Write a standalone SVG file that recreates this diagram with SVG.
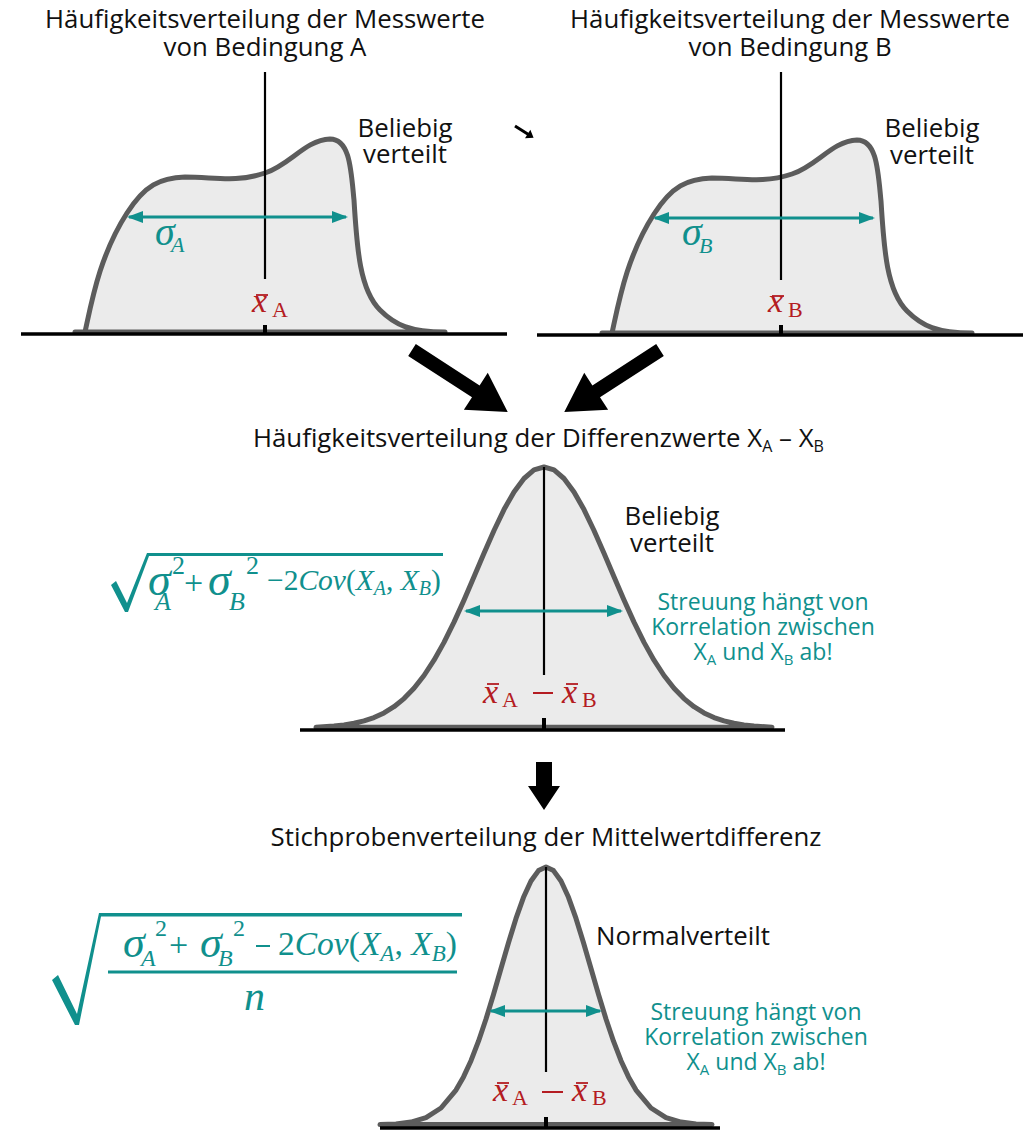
<svg xmlns="http://www.w3.org/2000/svg" width="1035" height="1130" viewBox="0 0 1035 1130">
<style>
.t{font-family:"Open Sans","Noto Sans","DejaVu Sans",sans-serif;font-size:25.8px;fill:#111}
.tc{font-family:"Open Sans","Noto Sans","DejaVu Sans",sans-serif;font-size:23px;fill:#10908d}
.m{font-family:"Liberation Serif","DejaVu Serif",serif}
.i{font-style:italic}
.teal{fill:#10908d}
.red{fill:#b41c22}
.curve{fill:#ebebeb;stroke:#5c5c5c;stroke-width:5;stroke-linejoin:round}
.axis{stroke:#000;stroke-width:3.5}
.tick{stroke:#000;stroke-width:4}
.vl{stroke:#000;stroke-width:2.2}
.sg{stroke:#10908d;stroke-width:3;marker-start:url(#ah);marker-end:url(#ah)}
.bar{stroke:#b41c22;stroke-width:1.8}
.mn{stroke:#b41c22;stroke-width:2}
</style>
<defs>
<marker id="ah" viewBox="0 0 16 12" refX="14" refY="6" markerWidth="16" markerHeight="12" markerUnits="userSpaceOnUse" orient="auto-start-reverse">
<path d="M0,0 L16,6 L0,12 Z" fill="#10908d"/>
</marker>
</defs>

<g id="panel-A">
<text class="t" x="265" y="28" text-anchor="middle">Häufigkeitsverteilung der Messwerte</text>
<text class="t" x="265" y="56" text-anchor="middle">von Bedingung A</text>
<path class="curve" d="M75,332 L85,332 C92,300 100,255 127,213 C145,185 160,178 185,177 C215,177 235,183 265,173 C290,165 305,140 330,139 C350,139 351,170 354,200 C357,250 360,290 380,310 C395,325 410,332 445,332 Z"/>
<line class="axis" x1="21" y1="334" x2="507" y2="334"/>
<line class="tick" x1="265" y1="325" x2="265" y2="334"/>
<line class="vl" x1="265" y1="72" x2="265" y2="279"/>
<line class="sg" x1="129" y1="217" x2="346" y2="217"/>
<text class="m i teal" x="155" y="245" font-size="40">σ</text>
<text class="m i teal" x="171" y="252" font-size="22">A</text>
<text class="m i red" x="252" y="312" font-size="34">x</text>
<line class="bar" x1="256" y1="295" x2="268" y2="295"/>
<text class="m red" x="272" y="317" font-size="22">A</text>
<text class="t" x="405" y="137" text-anchor="middle">Beliebig</text>
<text class="t" x="405" y="163" text-anchor="middle">verteilt</text>
</g>

<g id="panel-B">
<text class="t" x="790" y="28" text-anchor="middle">Häufigkeitsverteilung der Messwerte</text>
<text class="t" x="790" y="56" text-anchor="middle">von Bedingung B</text>
<path class="curve" transform="translate(527,1)" d="M75,332 L85,332 C92,300 100,255 127,213 C145,185 160,178 185,177 C215,177 235,183 265,173 C290,165 305,140 330,139 C350,139 351,170 354,200 C357,250 360,290 380,310 C395,325 410,332 445,332 Z"/>
<line class="axis" x1="537" y1="335" x2="1023" y2="335"/>
<line class="tick" x1="781" y1="325" x2="781" y2="335"/>
<line class="vl" x1="781" y1="72" x2="781" y2="280"/>
<line class="sg" x1="655" y1="218" x2="873" y2="218"/>
<text class="m i teal" x="682" y="245" font-size="40">σ</text>
<text class="m i teal" x="699" y="253" font-size="22">B</text>
<text class="m i red" x="768" y="312" font-size="34">x</text>
<line class="bar" x1="772" y1="296" x2="784" y2="296"/>
<text class="m red" x="788" y="317" font-size="22">B</text>
<text class="t" x="932" y="137" text-anchor="middle">Beliebig</text>
<text class="t" x="932" y="164" text-anchor="middle">verteilt</text>
</g>

<g id="connectors">
<polygon transform="translate(412,350) rotate(32.9)" points="0,-7 76,-7 76,-22 114,0 76,22 76,7 0,7" fill="#000"/>
<polygon transform="translate(660,350) rotate(147.1)" points="0,-7 76,-7 76,-22 114,0 76,22 76,7 0,7" fill="#000"/>
<polygon points="536,762 552,762 552,786 560,786 544,810 528,786 536,786" fill="#000"/>
<polygon transform="translate(515,126) rotate(32.3)" points="0,-1.5 15,-1.5 15,-5 22,0 15,5 15,1.5 0,1.5" fill="#000"/>
</g>

<g id="panel-diff">
<text class="t" x="253" y="447">Häufigkeitsverteilung der Differenzwerte  X<tspan dy="5" font-size="16">A</tspan><tspan dy="-5"> – X</tspan><tspan dy="5" font-size="16">B</tspan></text>
<path class="curve" d="M316,727.2 L334,726.1 L344,725 L354,723.3 L364,720.9 L374,717.6 L384,712.9 L394,706.7 L404,698.6 L414,688.3 L424,675.5 L434,660.2 L444,642.4 L454,622.1 L464,600.1 L474,576.8 L484,553.2 L494,530.5 L504,509.6 L514,491.9 L524,478.5 L534,469.9 L544,467 L554,469.9 L564,478.5 L574,491.9 L584,509.6 L594,530.5 L604,553.2 L614,576.8 L624,600.1 L634,622.1 L644,642.4 L654,660.2 L664,675.5 L674,688.3 L684,698.6 L694,706.7 L704,712.9 L714,717.6 L724,720.9 L734,723.3 L744,725 L754,726.1 L772,727.2 Z"/>
<line class="axis" x1="300" y1="730" x2="785" y2="730"/>
<line class="tick" x1="544" y1="718" x2="544" y2="730"/>
<line class="vl" x1="544" y1="467" x2="544" y2="675"/>
<line class="sg" x1="466" y1="611" x2="621" y2="611"/>
<text class="m i red" x="483" y="703" font-size="34">x</text>
<line class="bar" x1="487" y1="684" x2="499" y2="684"/>
<text class="m red" x="502" y="707" font-size="22">A</text>
<line class="mn" x1="533" y1="693" x2="553" y2="693"/>
<text class="m i red" x="562" y="703" font-size="34">x</text>
<line class="bar" x1="566" y1="684" x2="578" y2="684"/>
<text class="m red" x="582" y="707" font-size="22">B</text>
<text class="t" x="672" y="525" text-anchor="middle">Beliebig</text>
<text class="t" x="672" y="552" text-anchor="middle">verteilt</text>
<text class="tc" x="763" y="610" text-anchor="middle">Streuung hängt von</text>
<text class="tc" x="763" y="635" text-anchor="middle">Korrelation zwischen</text>
<text class="tc" x="763" y="660" text-anchor="middle">X<tspan dy="5" font-size="15">A</tspan><tspan dy="-5"> und X</tspan><tspan dy="5" font-size="15">B</tspan><tspan dy="-5"> ab!</tspan></text>
<path class="teal" d="M111,585 L116,581 L127,603 L147,553 L443,553 L443,556 L149,556 L128,612 L125,612 Z"/>
<text class="m i teal" x="148" y="595" font-size="46">σ</text>
<text class="m teal" x="172" y="574" font-size="26">2</text>
<text class="m i teal" x="155" y="610" font-size="26">A</text>
<text class="m teal" x="184" y="594" font-size="34">+</text>
<text class="m i teal" x="208" y="595" font-size="46">σ</text>
<text class="m teal" x="246" y="574" font-size="26">2</text>
<text class="m i teal" x="229" y="610" font-size="26">B</text>
<text class="m teal" x="267" y="590" font-size="29.5">−2<tspan class="i">Cov</tspan>(<tspan class="i">X</tspan><tspan class="i" dy="5" font-size="20">A</tspan><tspan dy="-5">, </tspan><tspan class="i">X</tspan><tspan class="i" dy="5" font-size="20">B</tspan><tspan dy="-5">)</tspan></text>
</g>

<g id="panel-sampling">
<text class="t" x="546" y="846" text-anchor="middle">Stichprobenverteilung der Mittelwertdifferenz</text>
<path class="curve" d="M380,1124.6 L396,1124 L411,1122.1 L426,1117.6 L441,1108 L456,1090.1 L463.5,1076.9 L471,1060.7 L478.5,1041.2 L486,1019 L493.5,994.4 L501,968.5 L508.5,942.7 L516,918.4 L523.5,897.3 L531,881 L538.5,870.6 L546,867 L553.5,870.6 L561,881 L568.5,897.3 L576,918.4 L583.5,942.7 L591,968.5 L598.5,994.4 L606,1019 L613.5,1041.2 L621,1060.7 L628.5,1076.9 L636,1090.1 L651,1108 L666,1117.6 L681,1122.1 L696,1124 L712,1124.6 Z"/>
<line class="axis" x1="380" y1="1128" x2="720" y2="1128"/>
<line class="tick" x1="546" y1="1117" x2="546" y2="1128"/>
<line class="vl" x1="546" y1="867" x2="546" y2="1072"/>
<line class="sg" x1="491" y1="1011" x2="600" y2="1011"/>
<text class="m i red" x="493" y="1101" font-size="34">x</text>
<line class="bar" x1="497" y1="1083" x2="509" y2="1083"/>
<text class="m red" x="512" y="1105" font-size="22">A</text>
<line class="mn" x1="542" y1="1092" x2="563" y2="1092"/>
<text class="m i red" x="572" y="1101" font-size="34">x</text>
<line class="bar" x1="576" y1="1083" x2="588" y2="1083"/>
<text class="m red" x="592" y="1105" font-size="22">B</text>
<text class="t" x="683" y="945" text-anchor="middle">Normalverteilt</text>
<text class="tc" x="756" y="1020" text-anchor="middle">Streuung hängt von</text>
<text class="tc" x="756" y="1045" text-anchor="middle">Korrelation zwischen</text>
<text class="tc" x="756" y="1070" text-anchor="middle">X<tspan dy="5" font-size="15">A</tspan><tspan dy="-5"> und X</tspan><tspan dy="5" font-size="15">B</tspan><tspan dy="-5"> ab!</tspan></text>
<path class="teal" d="M52,980 L58,975 L77,1014 L99,913 L462,913 L462,916.5 L101,916.5 L79,1025 L75,1025 Z"/>
<line x1="108" y1="972" x2="457" y2="972" stroke="#10908d" stroke-width="3"/>
<text class="m i teal" x="123" y="957" font-size="44">σ</text>
<text class="m teal" x="155" y="936" font-size="24">2</text>
<text class="m i teal" x="141" y="966" font-size="24">A</text>
<text class="m teal" x="169" y="956" font-size="34">+</text>
<text class="m i teal" x="200" y="957" font-size="44">σ</text>
<text class="m teal" x="233" y="936" font-size="24">2</text>
<text class="m i teal" x="218" y="966" font-size="24">B</text>
<line x1="256" y1="946" x2="270" y2="946" stroke="#10908d" stroke-width="2"/>
<text class="m teal" x="278" y="955" font-size="33.5">2<tspan class="i">Cov</tspan>(<tspan class="i">X</tspan><tspan class="i" dy="6" font-size="23">A</tspan><tspan dy="-6">, </tspan><tspan class="i">X</tspan><tspan class="i" dy="6" font-size="23">B</tspan><tspan dy="-6">)</tspan></text>
<text class="m i teal" x="244" y="1010" font-size="42">n</text>
</g>
</svg>
